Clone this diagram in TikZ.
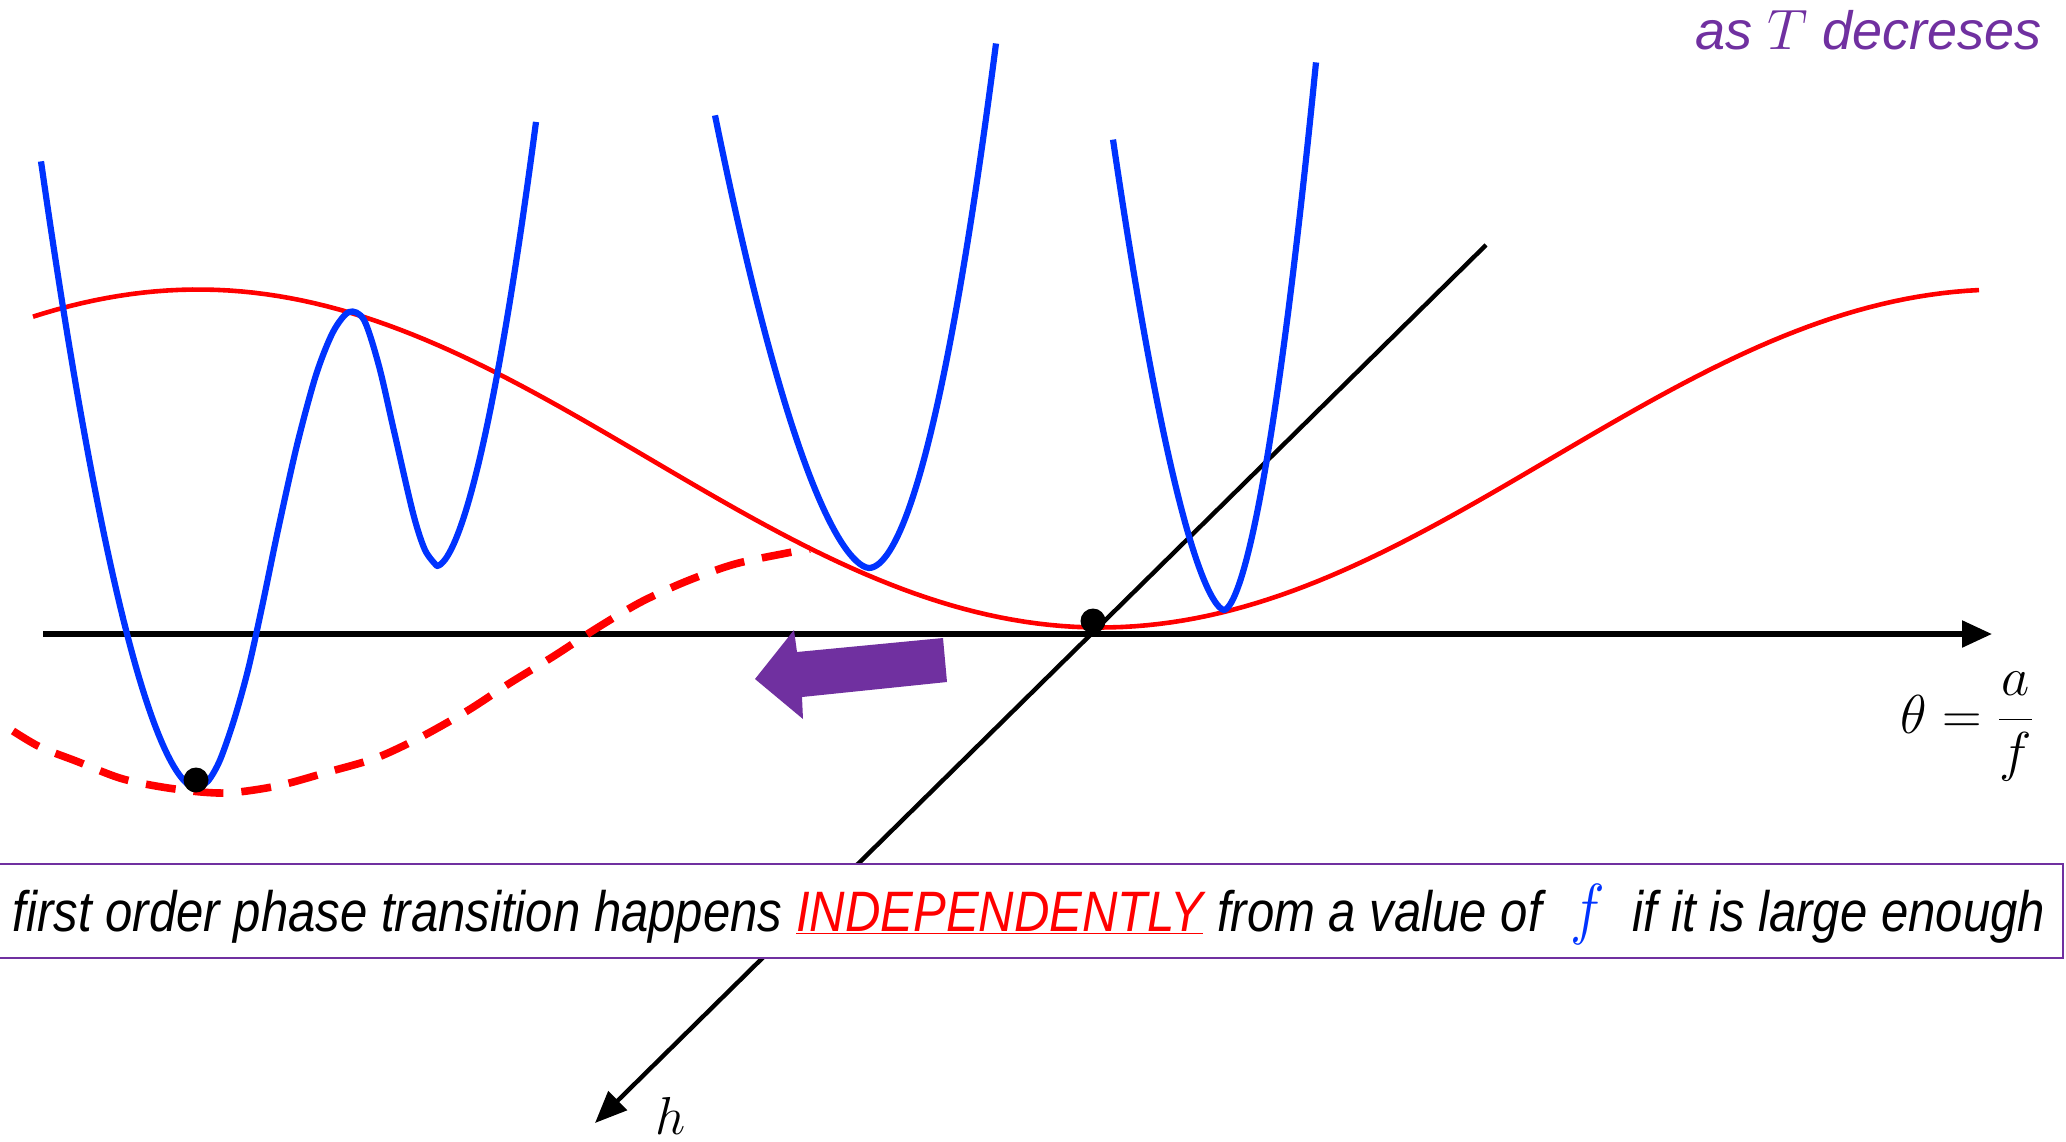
\RequirePackage{fix-cm}
\documentclass[tikz,border=0pt]{standalone}
\usepackage{fontspec}
\setmainfont{Liberation Sans}
\usetikzlibrary{arrows.meta}
\definecolor{myblue}{HTML}{0033FF}
\definecolor{myred}{HTML}{FF0000}
\definecolor{mypurple}{HTML}{7030A0}
\begin{document}
\begin{tikzpicture}[x=0.5pt,y=-0.5pt,
  bluecurve/.style={draw=myblue, line width=3.1pt, line join=round},
  redcurve/.style={draw=myred, line width=2.3pt},
  reddash/.style={draw=myred, line width=3.8pt, dash pattern=on 15pt off 9pt},
  axisline/.style={line width=2.7pt, -{Triangle[length=15pt,width=13pt]}},
  diagline/.style={line width=2.2pt, -{Triangle[length=16pt,width=13pt]}},
  blackdot/.style={circle, fill=black, inner sep=0pt, minimum size=12.5pt},
  bigarrow/.style={fill=mypurple, draw=none}]
\useasboundingbox (0,0) rectangle (2066,1141);
% axes
\coordinate (ax0) at (43,634);
\coordinate (ax1) at (1992,634);
\coordinate (d0) at (1486,245);
\coordinate (d1) at (595,1123);
\draw[axisline] (ax0) -- (ax1);
\draw[diagline] (d0) -- (d1);
% red curves
\draw[redcurve] plot[domain=33:1979, samples=160] (\x, {458.5-169*cos(0.199557*(\x-198))});
\draw[reddash] plot[smooth] coordinates {(13,731) (40,747) (76,761) (123,779) (175,789) (225,793) (277,786) (328,772) (376,758) (421,737) (467,711) (510,683) (554,656) (597,628) (641,602) (687,581) (735,564) (787,553) (810,549)};
% blue curves
\draw[bluecurve] plot[domain=155:0.01, samples=50] ({196-\x}, {788-pow(\x/3.77,1.733)})
  -- plot[smooth] coordinates {(196,788) (208,781) (220,760) (234,720) (248,670) (262,607) (278,530) (297,445) (316,375) (333,332) (349,312) (364,320) (379,366) (394,431) (413,513) (425,550) (437,566)}
  -- plot[domain=0.01:99, samples=50] ({437+\x}, {566-pow(\x/2.68,1.689)});
\draw[bluecurve] plot[domain=154:0.01, samples=50] ({869-\x}, {568-pow(\x/3.93,1.667)})
  -- plot[domain=0.01:127, samples=50] ({869+\x}, {568-pow(\x/4.54,1.88)});
\draw[bluecurve] plot[domain=111:0.01, samples=50] ({1224-\x}, {610-pow(\x/2.40,1.605)})
  -- plot[domain=0.01:92, samples=50] ({1224+\x}, {610-pow(\x/2.2,1.689)});
% dots
\node[blackdot] (dotA) at (196,780) {};
\node[blackdot] (dotB) at (1093,621) {};
% purple arrow
\fill[bigarrow] (943,638) -- (947,682) -- (802,697) -- (803,719) -- (755,679) -- (794,630) -- (797,652) -- cycle;
% text box
\node[draw=mypurple, line width=1pt, fill=white, minimum width=1032.5pt, minimum height=47pt, inner sep=0pt] (box) at (1030.5,911) {};
\node[anchor=base, inner sep=0pt, font=\fontsize{28.5}{32}\selectfont] (txt) at (1029,931)
  {\resizebox{1016pt}{\height}{\itshape first order phase transition happens \textcolor{myred}{\underline{INDEPENDENTLY}} from a value of\hspace{0.3em} \textcolor{myblue}{\fontsize{34}{38}\selectfont$f$}\hspace{0.3em} if it is large enough}};
% labels
\node[anchor=base east, inner sep=0pt, text=mypurple, font=\fontsize{27}{30}\selectfont\itshape] (title) at (2042,49) {as {\fontsize{28.5}{32}\selectfont$T$} decreses};
\node[anchor=base west, inner sep=0pt, font=\fontsize{27.4}{32}\selectfont] (theta) at (1900,733) {$\displaystyle\theta=\frac{a}{f}$};
\node[anchor=base west, inner sep=0pt, font=\fontsize{26.7}{30}\selectfont] (hlab) at (655,1134) {$h$};
\end{tikzpicture}
\end{document}
